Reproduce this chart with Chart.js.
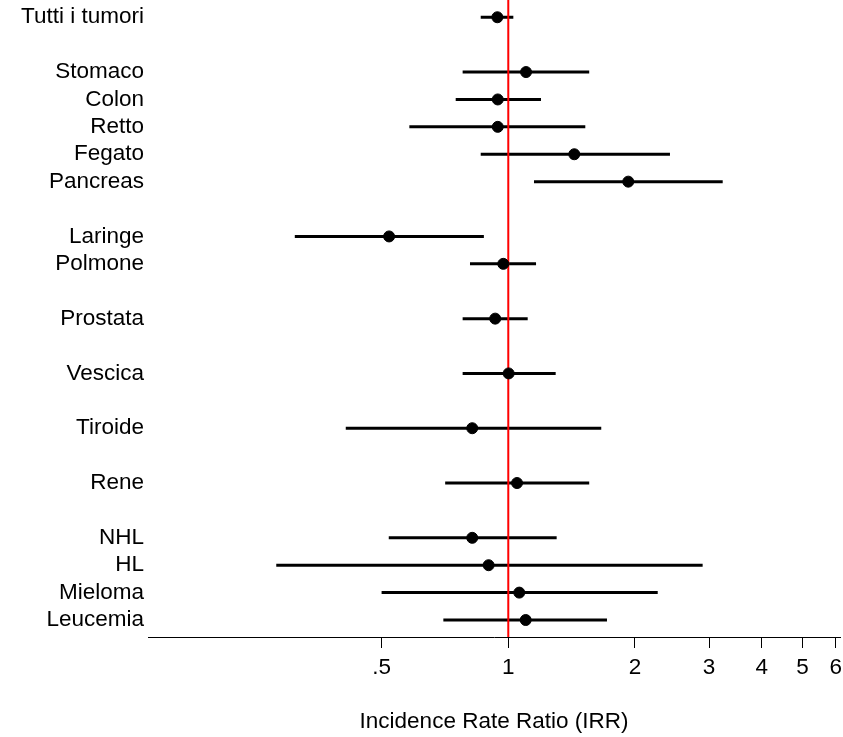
<!DOCTYPE html>
<html>
<head>
<meta charset="utf-8">
<script src="https://cdn.jsdelivr.net/npm/chart.js@4"></script>
<style>
  html, body { margin: 0; padding: 0; background: #fff; }
  #wrap { width: 843px; height: 737px; }
</style>
</head>
<body>
<div id="wrap"><canvas id="forest"></canvas></div>
<script>
// rows from top to bottom, '' = empty spacer row
const rowLabels = ['Tutti i tumori', '', 'Stomaco', 'Colon', 'Retto', 'Fegato', 'Pancreas', '',
  'Laringe', 'Polmone', '', 'Prostata', '', 'Vescica', '', 'Tiroide', '', 'Rene', '',
  'NHL', 'HL', 'Mieloma', 'Leucemia'];

// incidence rate ratio and 95% CI (null on spacer rows)
const irr   = [0.942, null, 1.102, 0.944, 0.944, 1.435, 1.928, null, 0.521, 0.973, null, 0.931, null, 1.002, null, 0.821, null, 1.049, null, 0.821, 0.898, 1.062, 1.100];
const lower = [0.860, null, 0.779, 0.750, 0.582, 0.860, 1.151, null, 0.311, 0.811, null, 0.779, null, 0.779, null, 0.411, null, 0.708, null, 0.520, 0.281, 0.500, 0.701];
const upper = [1.028, null, 1.557, 1.196, 1.524, 2.422, 3.232, null, 0.875, 1.164, null, 1.112, null, 1.296, null, 1.663, null, 1.557, null, 1.303, 2.896, 2.265, 1.716];

const xTicks = [0.5, 1, 2, 3, 4, 5, 6];
const refValue = 1;

const FONT = "'Liberation Sans', Arial, sans-serif";
const FSIZE = 22.5;
const yMin = -0.63, yMax = 22.62;

const datasets = [];

// estimates
datasets.push({
  type: 'scatter',
  data: irr.map((v, i) => v === null ? null : { x: v, y: i }).filter(p => p),
  backgroundColor: '#000',
  borderColor: '#000',
  pointRadius: 5.5,
  pointHoverRadius: 5.5,
  order: 0
});

// reference line at IRR = 1
datasets.push({
  type: 'line',
  data: [{ x: refValue, y: yMin }, { x: refValue, y: yMax }],
  borderColor: '#ff0000',
  borderWidth: 2,
  pointRadius: 0,
  order: 1
});

// confidence intervals
irr.forEach((v, i) => {
  if (v === null) return;
  datasets.push({
    type: 'line',
    data: [{ x: lower[i], y: i }, { x: upper[i], y: i }],
    borderColor: '#000',
    borderWidth: 3,
    pointRadius: 0,
    order: 2
  });
});

new Chart(document.getElementById('forest'), {
  type: 'scatter',
  data: { datasets },
  options: {
    responsive: true,
    maintainAspectRatio: false,
    animation: false,
    layout: { autoPadding: false, padding: { top: 0, right: 3, bottom: 0, left: 0 } },
    plugins: { legend: { display: false }, tooltip: { enabled: false } },
    scales: {
      x: {
        type: 'logarithmic',
        min: 0.1393,
        max: 6.14,
        afterBuildTicks: (scale) => { scale.ticks = xTicks.map(v => ({ value: v })); },
        afterFit: (scale) => { scale.height = 100; scale.paddingLeft = 0; scale.paddingRight = 0; },
        border: { display: true, color: '#000', width: 1 },
        grid: { display: true, drawOnChartArea: false, drawTicks: true, tickLength: 11, color: '#000' },
        ticks: {
          autoSkip: false,
          maxRotation: 0,
          padding: 6,
          color: '#000',
          font: { family: FONT, size: FSIZE },
          callback: (v) => v === 0.5 ? '.5' : String(v)
        },
        title: {
          display: true,
          text: 'Incidence Rate Ratio (IRR)',
          color: '#000',
          font: { family: FONT, size: FSIZE },
          padding: { top: 0, bottom: 2 }
        }
      },
      y: {
        type: 'linear',
        reverse: true,
        min: yMin,
        max: yMax,
        afterBuildTicks: (scale) => { scale.ticks = rowLabels.map((l, i) => ({ value: i })); },
        afterFit: (scale) => { scale.width = 148; scale.paddingTop = 0; scale.paddingBottom = 0; },
        border: { display: false },
        grid: { display: false, drawTicks: false },
        ticks: {
          autoSkip: false,
          padding: 4,
          color: '#000',
          font: { family: FONT, size: FSIZE, lineHeight: 1 },
          callback: (v) => rowLabels[Math.round(v)]
        }
      }
    }
  }
});
</script>
</body>
</html>
